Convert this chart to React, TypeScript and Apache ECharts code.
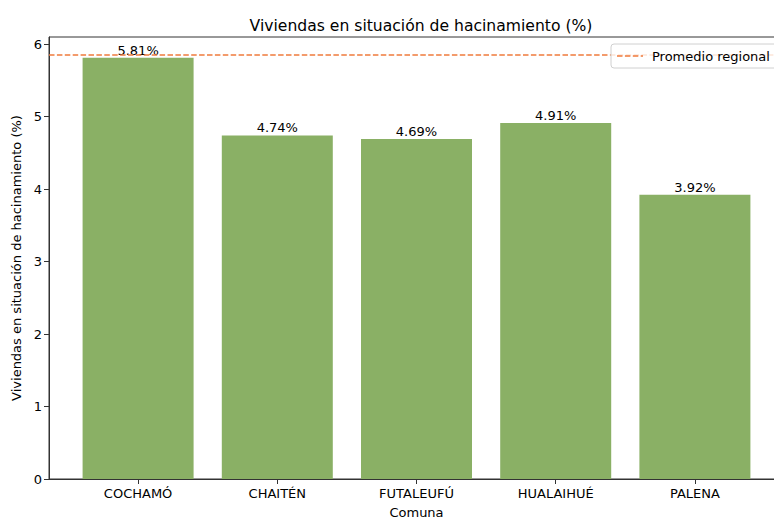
import React, { useEffect, useRef } from "react";
import * as echarts from "echarts";

const categories = ["COCHAMÓ", "CHAITÉN", "FUTALEUFÚ", "HUALAIHUÉ", "PALENA"];
const values = [5.81, 4.74, 4.69, 4.91, 3.92];
const regionalAverage = 5.85;
const yTicks = [0, 1, 2, 3, 4, 5, 6];
const xPositions = [0, 1, 2, 3, 4];
const legendLabel = "Promedio regional";

const FONT = "DejaVu Sans";
const LINE_COLOR = "#EF7B3D";

export default function App() {
  const ref = useRef<HTMLDivElement>(null);
  useEffect(() => {
    if (!ref.current) return;
    const chart = echarts.init(ref.current, null, { renderer: "svg" });
    const xMin = -0.64;
    const xMax = 4.64;
    chart.setOption({
      animation: false,
      textStyle: { fontFamily: FONT },
      title: {
        text: "Viviendas en situación de hacinamiento (%)",
        left: 416,
        textAlign: "center",
        top: 13,
        textStyle: { fontFamily: FONT, fontSize: 15.6, fontWeight: "normal", color: "#000" },
      },
      grid: {
        left: 49,
        right: -10,
        top: 37,
        bottom: 40,
        outerBoundsMode: "none",
        containLabel: false,
        show: true,
        borderColor: "#333",
        borderWidth: 1,
      },
      xAxis: {
        type: "value",
        min: xMin,
        max: xMax,
        name: "Comuna",
        nameLocation: "middle",
        nameGap: 27,
        nameTextStyle: { fontFamily: FONT, fontSize: 13, color: "#000" },
        axisLine: { show: true, onZero: false, lineStyle: { color: "#333" } },
        axisTick: { show: true, length: 5, customValues: xPositions, lineStyle: { color: "#333" } },
        axisLabel: {
          customValues: xPositions,
          formatter: (v: number) => categories[Math.round(v)] ?? "",
          fontFamily: FONT,
          fontSize: 13,
          color: "#000",
          margin: 8,
        },
        splitLine: { show: false },
      },
      yAxis: {
        type: "value",
        min: 0,
        max: 6.097,
        name: "Viviendas en situación de hacinamiento (%)",
        nameLocation: "middle",
        nameGap: 26,
        nameTextStyle: { fontFamily: FONT, fontSize: 13, color: "#000" },
        axisLine: { show: true, onZero: false, lineStyle: { color: "#333" } },
        axisTick: { show: true, length: 5, customValues: yTicks, lineStyle: { color: "#333" } },
        axisLabel: {
          customValues: yTicks,
          formatter: (v: number) => String(v),
          fontFamily: FONT,
          fontSize: 13,
          color: "#000",
          margin: 7,
        },
        splitLine: { show: false },
      },
      graphic: [
        {
          type: "rect",
          shape: { x: 611, y: 44, width: 180, height: 24, r: 3 },
          style: { fill: "rgba(255,255,255,0.8)", stroke: "#d0d0d0", lineWidth: 1 },
          z: 10,
        },
        {
          type: "line",
          shape: { x1: 617, y1: 56, x2: 643, y2: 56 },
          style: { stroke: LINE_COLOR, lineWidth: 1.5, lineDash: [5.5, 2.4] },
          z: 11,
        },
        {
          type: "text",
          x: 652,
          y: 56,
          style: {
            text: legendLabel,
            fontFamily: FONT,
            fontSize: 13,
            fill: "#000",
            verticalAlign: "middle",
          },
          z: 11,
        },
      ],
      series: [
        {
          type: "bar",
          name: "Viviendas",
          data: values.map((v, i) => [xPositions[i], v]),
          barWidth: 111,
          itemStyle: { color: "#8AB065" },
          label: {
            show: true,
            position: "top",
            distance: 1,
            formatter: (p: any) => p.value[1].toFixed(2) + "%",
            fontFamily: FONT,
            fontSize: 13,
            color: "#000",
          },
          z: 1,
        },
        {
          type: "line",
          name: legendLabel,
          data: [
            [xMin, regionalAverage],
            [xMax, regionalAverage],
          ],
          symbol: "none",
          lineStyle: { color: LINE_COLOR, width: 1.5, type: [5.5, 2.4] },
          itemStyle: { color: LINE_COLOR },
          z: 3,
        },
      ],
    });
    return () => chart.dispose();
  }, []);
  return (
    <div
      ref={ref}
      style={{ position: "fixed", left: 0, top: 0, width: 774, height: 519, background: "#fff" }}
    />
  );
}
